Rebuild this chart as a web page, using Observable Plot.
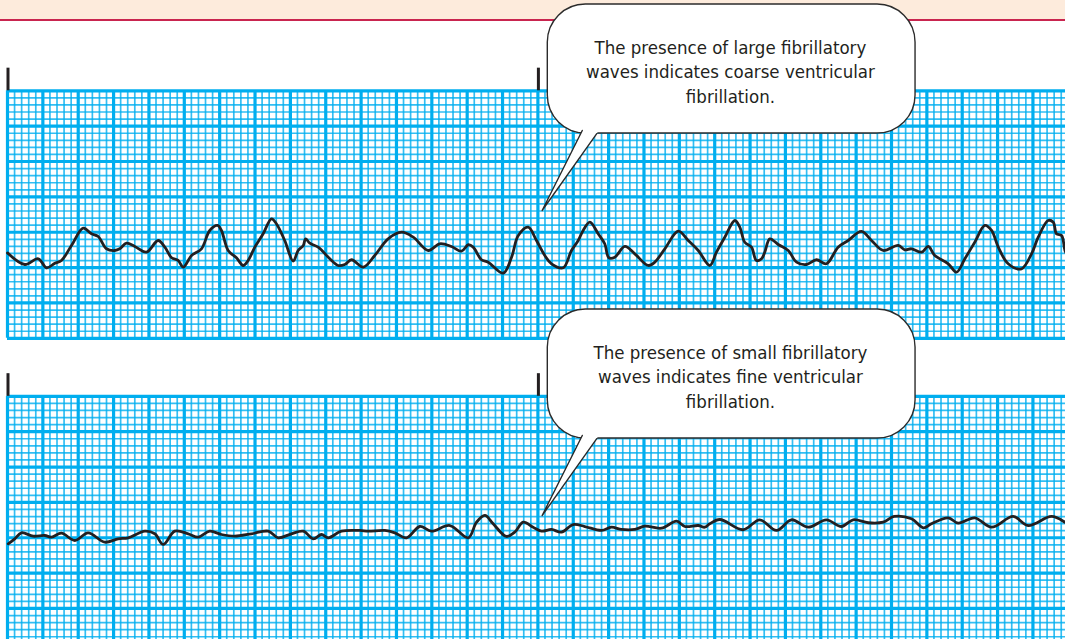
<!DOCTYPE html>
<html><head><meta charset="utf-8">
<script src="https://cdn.jsdelivr.net/npm/d3@7"></script>
<script src="https://cdn.jsdelivr.net/npm/@observablehq/plot@0.6"></script>
<style>
html,body{margin:0;padding:0;background:#fff;}
#chart{position:relative;width:1065px;height:639px;overflow:hidden;
background:linear-gradient(to bottom,#fdebdc 0,#fdebdc 19px,#c9254f 19px,#c9254f 21px,#ffffff 21px);}
</style></head><body><div id="chart"></div>
<script>
// ---- Data: time (s) and amplitude (mV) read from the strips ----
const coarseTime = [0.000,0.098,0.174,0.221,0.268,0.305,0.362,0.428,0.475,0.513,0.560,0.607,0.635,0.673,0.720,0.786,0.852,0.890,0.928,0.965,0.994,1.041,1.097,1.144,1.188,1.210,1.248,1.295,1.333,1.361,1.399,1.446,1.493,1.521,1.568,1.616,1.644,1.673,1.686,1.710,1.757,1.823,1.870,1.908,1.946,2.012,2.077,2.153,2.229,2.295,2.380,2.445,2.511,2.568,2.606,2.634,2.681,2.719,2.804,2.851,2.889,2.945,2.992,3.039,3.077,3.143,3.190,3.228,3.256,3.294,3.341,3.378,3.401,3.435,3.492,3.548,3.624,3.661,3.718,3.794,3.850,3.907,3.972,4.010,4.057,4.114,4.142,4.170,4.208,4.236,4.265,4.283,4.312,4.359,4.416,4.463,4.519,4.576,4.632,4.698,4.755,4.830,4.887,4.953,5.038,5.075,5.113,5.170,5.208,5.245,5.321,5.368,5.415,5.471,5.528,5.566,5.604,5.660,5.735,5.792,5.830,5.886,5.915,5.933,5.962,5.981,5.995];
const coarseMv = [-0.01,-0.174,-0.093,-0.221,-0.156,-0.117,0.095,0.339,0.260,0.222,0.048,0.024,0.048,0.127,0.081,0.000,0.165,0.071,-0.079,-0.117,-0.212,-0.047,0.048,0.307,0.378,0.307,0.024,-0.079,-0.188,-0.117,0.071,0.260,0.472,0.402,0.165,-0.127,0.024,0.095,0.189,0.127,0.071,-0.093,-0.188,-0.174,-0.107,-0.212,-0.047,0.189,0.283,0.212,0.024,0.119,0.081,0.014,0.105,0.071,-0.107,-0.141,-0.297,-0.071,0.236,0.354,0.165,-0.047,-0.164,-0.221,0.024,0.165,0.307,0.424,0.260,0.119,-0.079,-0.071,0.081,-0.023,-0.188,-0.141,0.048,0.297,0.165,0.024,-0.188,0.000,0.212,0.448,0.354,0.141,0.071,-0.117,-0.093,0.000,0.189,0.109,0.024,-0.141,-0.174,-0.107,-0.164,0.071,0.165,0.293,0.165,0.024,0.095,0.034,0.048,0.000,0.081,-0.047,-0.164,-0.283,-0.093,0.141,0.378,0.307,0.071,-0.164,-0.235,-0.023,0.212,0.448,0.424,0.260,0.236,0.024,-0.047];
const fineTime = [0.004,0.041,0.079,0.145,0.211,0.249,0.305,0.381,0.456,0.550,0.626,0.683,0.777,0.833,0.881,0.946,1.022,1.079,1.144,1.210,1.286,1.380,1.475,1.531,1.606,1.673,1.729,1.776,1.814,1.889,1.993,2.040,2.134,2.191,2.257,2.332,2.398,2.502,2.606,2.653,2.700,2.747,2.822,2.869,2.917,2.973,3.020,3.077,3.133,3.200,3.265,3.360,3.416,3.473,3.548,3.605,3.699,3.784,3.831,3.907,3.944,3.972,4.029,4.161,4.255,4.350,4.434,4.529,4.632,4.717,4.783,4.868,4.953,5.015,5.113,5.180,5.226,5.321,5.377,5.471,5.566,5.688,5.773,5.905,5.981,5.995];
const fineMv = [-0.124,-0.054,0.031,-0.017,-0.007,-0.031,0.025,-0.078,0.031,-0.102,-0.054,-0.040,0.054,0.017,-0.134,0.054,0.017,-0.031,0.054,0.007,-0.017,0.017,0.054,-0.040,0.017,0.054,-0.054,0.007,-0.040,0.054,0.064,0.054,0.064,0.031,-0.040,0.120,0.054,0.134,-0.040,0.181,0.276,0.158,-0.021,0.040,0.181,0.110,0.054,0.078,0.040,0.148,0.120,0.064,0.110,0.078,0.078,0.124,0.096,0.195,0.120,0.134,0.110,0.158,0.219,0.074,0.215,0.064,0.215,0.110,0.215,0.120,0.215,0.173,0.181,0.262,0.229,0.102,0.158,0.243,0.167,0.243,0.110,0.262,0.134,0.262,0.181,0.156];
const markerTimes = [0, 3];
const calloutText = [
  "The presence of large fibrillatory\nwaves indicates coarse ventricular\nfibrillation.",
  "The presence of small fibrillatory\nwaves indicates fine ventricular\nfibrillation."
];

// ---- Layout (mm from top of first strip; 1 mm = 0.1 mV) ----
const stripTop = [0, 43.2];
const baseline = [22.82, 62.81];
const stripHeight = 35;
const bubbleShift = [0, 43.13];
const stripSeconds = 6;

const ink = "#231f20", gridCol = "#00aeef";

const traces = [
  ...coarseTime.map((t, i) => ({strip: 0, t, y: baseline[0] - coarseMv[i] * 10})),
  ...fineTime.map((t, i) => ({strip: 1, t, y: baseline[1] - fineMv[i] * 10}))
];

const ticksS = d3.range(0, stripSeconds / 0.04 + 1).map(i => ({i, t: +(i * 0.04).toFixed(2)}));
const ticksMm = d3.range(0, stripHeight + 1).map(i => ({i}));
const vLines = [0, 1].flatMap(s => ticksS.map(d => ({...d, s, y1: stripTop[s], y2: stripTop[s] + stripHeight})));
const hLines = [0, 1].flatMap(s => ticksMm.map(d => ({...d, s, y: stripTop[s] + d.i})));

const markers = [0, 1].flatMap(s => markerTimes.map(t => ({t, y1: stripTop[s] - 3.2, y2: stripTop[s]})));

const bubbles = bubbleShift.map((o, k) => ({k, x1: 3.056, x2: 5.136, y1: -12.2 + o, y2: 6.04 + o, tx: 4.089, ty: -2.85 + o, text: calloutText[k]}));
const tailFill = bubbleShift.flatMap((o, k) => [
  {k, x: 3.262, y: 5.05 + o}, {k, x: 3.024, y: 16.93 + o}, {k, x: 3.347, y: 5.51 + o}]);
const tailEdge = bubbleShift.flatMap((o, k) => [
  {k, x: 3.251, y: 5.61 + o}, {k, x: 3.024, y: 16.93 + o}, {k, x: 3.332, y: 6.08 + o}]);

const W = 1065, H = 639, mL = 7, pxPerMm = 7.072, top0 = 90.3;

const chart = Plot.plot({
  width: W, height: H,
  marginLeft: mL, marginRight: 0, marginTop: 0, marginBottom: 0,
  style: {background: "transparent", overflow: "hidden"},
  x: {domain: [0, (W - mL) / (pxPerMm * 25)], axis: null},
  y: {domain: [-top0 / pxPerMm, (H - top0) / pxPerMm], reverse: true, axis: null},
  marks: [
    Plot.rect([0, 1], {x1: 0, x2: stripSeconds, y1: s => stripTop[s], y2: s => stripTop[s] + stripHeight, fill: "white"}),
    Plot.ruleX(vLines.filter(d => d.i % 5 !== 0), {x: "t", y1: "y1", y2: "y2", stroke: gridCol, strokeWidth: 1.7, strokeOpacity: 0.8}),
    Plot.ruleY(hLines.filter(d => d.i % 5 !== 0), {y: "y", x1: 0, x2: stripSeconds, stroke: gridCol, strokeWidth: 1.7, strokeOpacity: 0.8}),
    Plot.ruleX(vLines.filter(d => d.i % 5 === 0), {x: "t", y1: "y1", y2: "y2", stroke: gridCol, strokeWidth: 3.2}),
    Plot.ruleY(hLines.filter(d => d.i % 5 === 0), {y: "y", x1: 0, x2: stripSeconds, stroke: gridCol, strokeWidth: 3.2}),
    Plot.ruleX(markers, {x: "t", y1: "y1", y2: "y2", stroke: ink, strokeWidth: 3, dx: 0.5}),
    Plot.line(traces, {x: "t", y: "y", z: "strip", curve: "catmull-rom", stroke: ink, strokeWidth: 2.8, strokeLinejoin: "round", strokeLinecap: "round"}),
    Plot.rect(bubbles, {x1: "x1", x2: "x2", y1: "y1", y2: "y2", rx: 38, fill: "white", stroke: "#2b2b2b", strokeWidth: 1.4}),
    Plot.line(tailFill, {x: "x", y: "y", z: "k", fill: "white", stroke: "none"}),
    Plot.line(tailEdge, {x: "x", y: "y", z: "k", fill: "none", stroke: "#2b2b2b", strokeWidth: 1.4}),
    Plot.text(bubbles, {x: "tx", y: "ty", text: "text", fill: ink, fontSize: 18.5, lineHeight: 24.3 / 18.5,
      fontFamily: "'Liberation Sans Narrow', 'DejaVu Sans Condensed', 'Roboto', sans-serif", textAnchor: "middle"})
  ]
});
document.getElementById("chart").appendChild(chart);
</script></body></html>
